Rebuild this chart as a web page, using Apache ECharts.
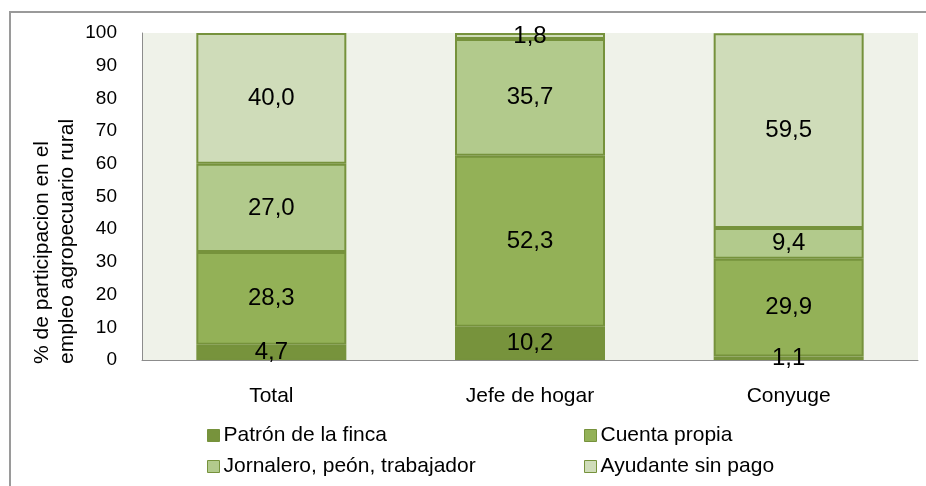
<html>
    <head>
        <meta charset="utf-8">
        <script src="https://cdn.jsdelivr.net/npm/echarts@6/dist/echarts.min.js"></script>
        <style>
            html, body { margin: 0; padding: 0; background: #fff; }
            #main { width: 926px; height: 486px; }
        </style>
    </head>
    <body>
        <div id="main"></div>
        <script>

        // grupos (eje x)
        var categories = ['Total', 'Jefe de hogar', 'Conyuge'];

        // % de participacion por posicion ocupacional
        var patron = [4.7, 10.2, 1.1];
        var cuentaPropia = [28.3, 52.3, 29.9];
        var jornalero = [27.0, 35.7, 9.4];
        var ayudante = [40.0, 1.8, 59.5];

        var seriesNames = ['Patrón de la finca', 'Cuenta propia', 'Jornalero, peón, trabajador', 'Ayudante sin pago'];
        var seriesColors = ['#77933C', '#93B157', '#B2CA8C', '#CFDCB9'];
        var seriesData = [patron, cuentaPropia, jornalero, ayudante];

        var yTicks = { min: 0, max: 100, interval: 10 };

        var font = 'Liberation Sans';

        var myChart = echarts.init(document.getElementById('main'));

        function fmt(p) {
            return p.value.toFixed(1).replace('.', ',');
        }

        var series = seriesNames.map(function (name, i) {
            return {
                name: name,
                type: 'bar',
                stack: 'total',
                barWidth: 150,
                data: seriesData[i],
                itemStyle: {
                    color: seriesColors[i],
                    borderColor: '#76923C',
                    borderWidth: 2
                },
                label: {
                    show: true,
                    position: 'inside',
                    formatter: fmt,
                    color: '#000',
                    fontFamily: font,
                    fontSize: 24
                }
            };
        });

        // una leyenda por item para alinear las dos columnas
        var legendPos = [
            { left: 207, top: 425 },
            { left: 584, top: 425 },
            { left: 207, top: 456 },
            { left: 584, top: 456 }
        ];
        var legends = seriesNames.map(function (name, i) {
            return {
                data: [name],
                left: legendPos[i].left,
                top: legendPos[i].top,
                icon: 'rect',
                itemWidth: 12,
                itemHeight: 12,
                itemGap: 0,
                padding: 0,
                selectedMode: false,
                itemStyle: { borderWidth: 1, borderColor: '#76923C' },
                textStyle: { fontFamily: font, fontSize: 21, color: '#000', padding: [0, 0, 0, -1] }
            };
        });

        option = {
            backgroundColor: '#fff',
            animation: false,
            legend: legends,
            grid: {
                left: 142,
                right: 8,
                top: 33,
                bottom: 126,
                show: true,
                backgroundColor: '#EFF2E9',
                borderWidth: 0
            },
            xAxis: {
                type: 'category',
                data: categories,
                axisTick: { show: false },
                axisLine: { lineStyle: { color: '#8C8C8C', width: 1 } },
                axisLabel: {
                    margin: 26,
                    color: '#000',
                    fontFamily: font,
                    fontSize: 21
                }
            },
            yAxis: {
                type: 'value',
                min: yTicks.min,
                max: yTicks.max,
                interval: yTicks.interval,
                splitLine: { show: false },
                axisTick: { show: false },
                axisLine: { show: true, lineStyle: { color: '#8C8C8C', width: 1 } },
                axisLabel: {
                    margin: 25,
                    color: '#000',
                    fontFamily: font,
                    fontSize: 19
                }
            },
            graphic: [
                {
                    type: 'rect',
                    shape: { x: 10, y: 12, width: 940, height: 520 },
                    style: { fill: 'none', stroke: '#9A9A9A', lineWidth: 2 },
                    silent: true
                },
                {
                    type: 'text',
                    x: 30,
                    y: 364,
                    rotation: Math.PI / 2,
                    style: {
                        text: '% de participacion en el\nempleo agropecuario rural',
                        font: '21px ' + font,
                        fill: '#000',
                        textAlign: 'left',
                        textVerticalAlign: 'top',
                        lineHeight: 25
                    },
                    silent: true
                }
            ],
            series: series
        };

        myChart.setOption(option);

        </script>
    </body>
</html>
